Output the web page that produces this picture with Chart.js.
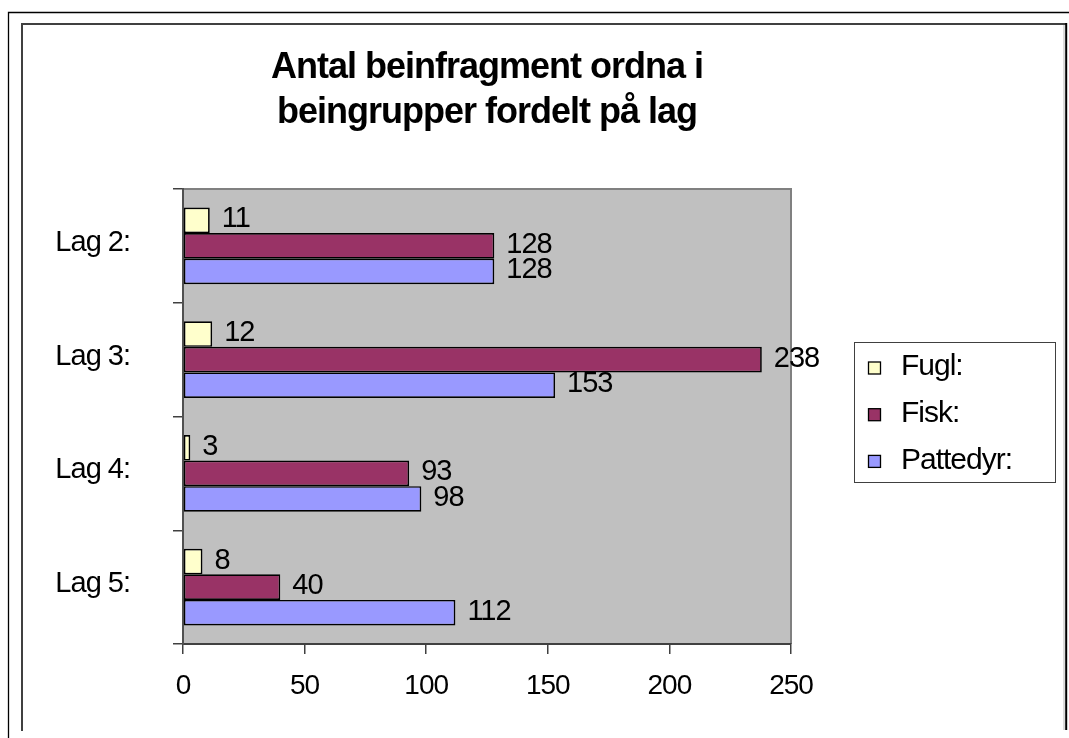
<!DOCTYPE html>
<html>
<head>
<meta charset="utf-8">
<script src="https://cdn.jsdelivr.net/npm/chart.js@4.4.1/dist/chart.umd.min.js"></script>
<style>
  html, body { margin: 0; padding: 0; background: #ffffff; }
  #wrap { width: 1069px; height: 738px; position: relative; }
  #c { letter-spacing: -1px; }
</style>
</head>
<body>
<div id="wrap"><canvas id="c"></canvas></div>
<script>
// Layers and bone-fragment counts per group
const categories = ['Lag 2:', 'Lag 3:', 'Lag 4:', 'Lag 5:'];
const seriesNames = ['Fugl:', 'Fisk:', 'Pattedyr:'];
const fugl = [11, 12, 3, 8];
const fisk = [128, 238, 93, 40];
const pattedyr = [128, 153, 98, 112];
const xTicks = [0, 50, 100, 150, 200, 250];
const titleLines = ['Antal beinfragment ordna i', 'beingrupper fordelt på lag'];

const seriesColors = ['#FFFFCC', '#993366', '#9999FF'];
const FONT = '"Liberation Sans", Arial, sans-serif';

// Frames, grey plot area, value labels and the boxed legend
const decor = {
  id: 'decor',
  beforeDraw(chart) {
    const ctx = chart.ctx;
    const a = chart.chartArea;
    ctx.save();
    // outer page frame
    ctx.strokeStyle = '#000000';
    ctx.lineWidth = 1.3;
    ctx.beginPath();
    ctx.moveTo(8.5, 738); ctx.lineTo(8.5, 12.5); ctx.lineTo(1069, 12.5);
    ctx.stroke();
    // chart object frame
    ctx.strokeStyle = '#404040';
    ctx.lineWidth = 2;
    ctx.beginPath();
    ctx.moveTo(22, 731); ctx.lineTo(22, 24); ctx.lineTo(1067, 24);
    ctx.stroke();
    ctx.strokeStyle = '#d0d0d0';
    ctx.lineWidth = 1.5;
    ctx.beginPath();
    ctx.moveTo(1064, 25); ctx.lineTo(1064, 730);
    ctx.stroke();
    ctx.strokeStyle = '#000000';
    ctx.lineWidth = 2;
    ctx.beginPath();
    ctx.moveTo(1066.2, 23); ctx.lineTo(1066.2, 730);
    ctx.stroke();
    // plot area
    ctx.fillStyle = '#C0C0C0';
    ctx.fillRect(a.left, a.top, a.right - a.left, a.bottom - a.top);
    ctx.strokeStyle = '#808080';
    ctx.lineWidth = 2;
    ctx.beginPath();
    ctx.moveTo(a.left, a.top); ctx.lineTo(a.right, a.top); ctx.lineTo(a.right, a.bottom);
    ctx.stroke();
    ctx.restore();
  },
  afterDatasetsDraw(chart) {
    const ctx = chart.ctx;
    ctx.save();
    ctx.font = '29px ' + FONT;
    ctx.fillStyle = '#000000';
    ctx.textAlign = 'left';
    ctx.textBaseline = 'middle';
    chart.data.datasets.forEach((ds, i) => {
      chart.getDatasetMeta(i).data.forEach((bar, j) => {
        ctx.fillText(String(ds.data[j]), bar.x + 12, bar.y - 1);
      });
    });
    ctx.restore();
  },
  afterDraw(chart) {
    const ctx = chart.ctx;
    const lx = 854.5, ly = 342.5, lw = 201, lh = 140;
    ctx.save();
    ctx.fillStyle = '#ffffff';
    ctx.fillRect(lx, ly, lw, lh);
    ctx.strokeStyle = '#404040';
    ctx.lineWidth = 1;
    ctx.strokeRect(lx, ly, lw, lh);
    ctx.font = '30px ' + FONT;
    ctx.textAlign = 'left';
    ctx.textBaseline = 'middle';
    chart.data.datasets.forEach((ds, i) => {
      const cy = ly + 25.5 + i * 46.7;
      ctx.fillStyle = ds.backgroundColor;
      ctx.fillRect(868.5, cy - 6, 12, 12);
      ctx.strokeStyle = '#000000';
      ctx.lineWidth = 1.3;
      ctx.strokeRect(868.5, cy - 6, 12, 12);
      ctx.fillStyle = '#000000';
      ctx.fillText(ds.label, 901, cy - 1);
    });
    ctx.restore();
  }
};

new Chart(document.getElementById('c'), {
  type: 'bar',
  data: {
    labels: categories,
    datasets: [
      { label: seriesNames[0], data: fugl, backgroundColor: seriesColors[0] },
      { label: seriesNames[1], data: fisk, backgroundColor: seriesColors[1] },
      { label: seriesNames[2], data: pattedyr, backgroundColor: seriesColors[2] }
    ]
  },
  options: {
    indexAxis: 'y',
    responsive: true,
    maintainAspectRatio: false,
    animation: false,
    layout: { padding: { top: 24, right: 278, bottom: 0, left: 0 } },
    datasets: {
      bar: {
        categoryPercentage: 0.675,
        barPercentage: 1,
        borderColor: '#000000',
        borderWidth: 1.7,
        borderSkipped: false
      }
    },
    plugins: {
      legend: { display: false },
      tooltip: { enabled: false },
      title: {
        display: true,
        text: titleLines,
        fullSize: false,
        color: '#000000',
        font: { family: FONT, size: 36, weight: 'bold', lineHeight: '45px' },
        padding: { top: 22, bottom: 53 }
      }
    },
    scales: {
      x: {
        z: 1,
        min: xTicks[0],
        max: xTicks[xTicks.length - 1],
        ticks: {
          stepSize: xTicks[1] - xTicks[0],
          color: '#000000',
          font: { family: FONT, size: 28 },
          padding: 15
        },
        grid: { drawOnChartArea: false, drawTicks: true, tickLength: 10, color: '#404040', lineWidth: 1.5 },
        border: { color: '#404040', width: 2 },
        afterFit(scale) { scale.height = 94; }
      },
      y: {
        z: 1,
        offset: true,
        ticks: {
          color: '#000000',
          font: { family: FONT, size: 29 },
          padding: 43,
          labelOffset: -3
        },
        grid: { offset: true, drawOnChartArea: false, drawTicks: true, tickLength: 10, color: '#404040', lineWidth: 1.5 },
        border: { color: '#505050', width: 2 },
        afterFit(scale) { scale.width = 183; }
      }
    }
  },
  plugins: [decor]
});
</script>
</body>
</html>
